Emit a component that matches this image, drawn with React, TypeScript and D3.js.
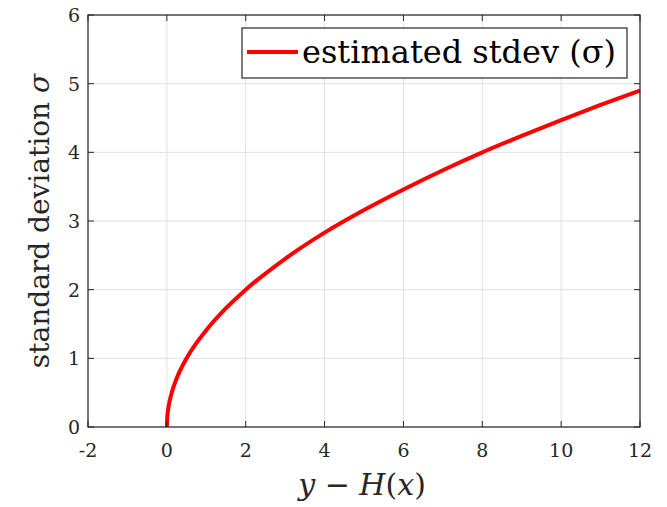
import React from "react";
import * as d3 from "d3";

const xValues = [0, 0.01, 0.02, 0.05, 0.1, 0.25, 0.5, 1, 1.5, 2, 3, 4, 5, 6, 7, 8, 9, 10, 11, 12];
const sigmaValues = [0, 0.14, 0.2, 0.32, 0.45, 0.71, 1.0, 1.41, 1.73, 2.0, 2.45, 2.83, 3.16, 3.46, 3.74, 4.0, 4.24, 4.47, 4.69, 4.9];
const xTicks = [-2, 0, 2, 4, 6, 8, 10, 12];
const yTicks = [0, 1, 2, 3, 4, 5, 6];
const legendLabel = "estimated stdev (σ)";

const W = 667, H = 507;
const M = { left: 88, right: 640, top: 15, bottom: 427 };

export default function App() {
  const x = d3.scaleLinear().domain([-2, 12]).range([M.left, M.right]);
  const y = d3.scaleLinear().domain([0, 6]).range([M.bottom, M.top]);
  const pts = xValues.map((v, i) => [v, sigmaValues[i]] as [number, number]);
  const line = d3.line<[number, number]>().x(d => x(d[0])).y(d => y(d[1])).curve(d3.curveMonotoneX);
  const axisColor = "#262626";
  const font = "'DejaVu Serif', serif";
  return (
    <svg width={W} height={H} style={{ position: "absolute", left: 0, top: 0, background: "#fff", fontFamily: font }}>
      <rect x={0} y={0} width={W} height={H} fill="#fff" />
      {xTicks.map(t => (
        <line key={"gx" + t} x1={x(t)} x2={x(t)} y1={M.top} y2={M.bottom} stroke="#e0e0e0" strokeWidth={1} />
      ))}
      {yTicks.map(t => (
        <line key={"gy" + t} x1={M.left} x2={M.right} y1={y(t)} y2={y(t)} stroke="#e0e0e0" strokeWidth={1} />
      ))}
      <path d={line(pts) || ""} fill="none" stroke="#ff0000" strokeWidth={4} />
      <rect x={M.left} y={M.top} width={M.right - M.left} height={M.bottom - M.top} fill="none" stroke={axisColor} strokeWidth={1.2} />
      {xTicks.map(t => (
        <g key={"tx" + t}>
          <line x1={x(t)} x2={x(t)} y1={M.bottom} y2={M.bottom - 6} stroke={axisColor} />
          <line x1={x(t)} x2={x(t)} y1={M.top} y2={M.top + 6} stroke={axisColor} />
          <text x={x(t)} y={M.bottom + 30} textAnchor="middle" fontSize={19} fill={axisColor}>{t}</text>
        </g>
      ))}
      {yTicks.map(t => (
        <g key={"ty" + t}>
          <line x1={M.left} x2={M.left + 6} y1={y(t)} y2={y(t)} stroke={axisColor} />
          <line x1={M.right} x2={M.right - 6} y1={y(t)} y2={y(t)} stroke={axisColor} />
          <text x={M.left - 8} y={y(t) + 7} textAnchor="end" fontSize={19} fill={axisColor}>{t}</text>
        </g>
      ))}
      <text x={362} y={495} textAnchor="middle" fontSize={30} fill={axisColor}>
        <tspan fontStyle="italic">y</tspan> − <tspan fontStyle="italic">H</tspan>(<tspan fontStyle="italic">x</tspan>)
      </text>
      <text transform={`translate(49, ${(M.top + M.bottom) / 2}) rotate(-90)`} textAnchor="middle" fontSize={28} fill={axisColor}>
        standard deviation <tspan fontStyle="italic">σ</tspan>
      </text>
      <rect x={242} y={28} width={385} height={50} fill="#fff" stroke={axisColor} strokeWidth={1.2} />
      <line x1={247} x2={298} y1={52} y2={52} stroke="#ff0000" strokeWidth={4} />
      <text x={302} y={63} fontSize={32} fill="#000">{legendLabel}</text>
    </svg>
  );
}
